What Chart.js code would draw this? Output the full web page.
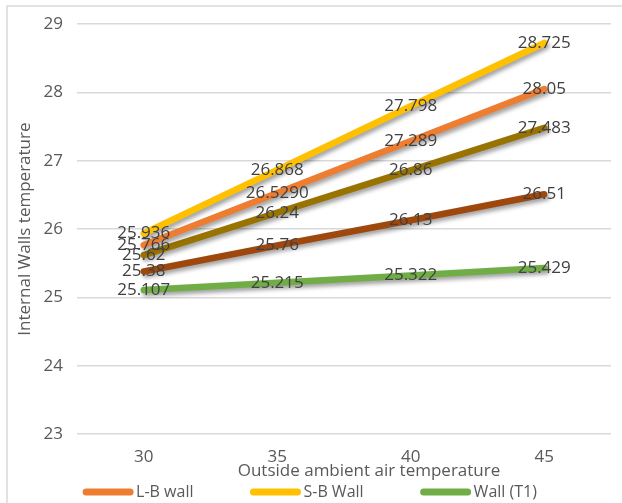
<!DOCTYPE html>
<html>
<head>
<meta charset="utf-8">
<script src="https://cdn.jsdelivr.net/npm/chart.js@4.4.1/dist/chart.umd.min.js"></script>
<style>
  html, body { margin: 0; padding: 0; background: #ffffff; }
  #wrap { width: 622px; height: 503px; position: relative; overflow: hidden; }
  canvas { display: block; }
</style>
</head>
<body>
<div id="wrap"><canvas id="chart" width="622" height="503"></canvas></div>
<script>
// Outside ambient air temperature (categories)
const outsideTemps = ['30', '35', '40', '45'];

// Internal wall temperatures per wall type
const lbWallLabels = ['25.766', '26.5290', '27.289', '28.05'];
const lbWall = lbWallLabels.map(Number);
const sbWall = [25.936, 26.868, 27.798, 28.725];
const wallT1 = [25.107, 25.215, 25.322, 25.429];
const wallT2 = [25.62, 26.24, 26.86, 27.483];
const wallT3 = [25.38, 25.76, 26.13, 26.51];

// Value axis range
const yMin = 23;
const yMax = 29;
const yStep = 1;

const xTitle = 'Outside ambient air temperature';
const yTitle = 'Internal Walls temperature';

const FONT = '"Open Sans", "Noto Sans", sans-serif';
const FONT_SIZE = 17;
const LEGEND_SIZE = 16;
const TEXT_DARK = '#404040';
const TEXT_AXIS = '#595959';

// Soft drop shadow under each line
const lineShadow = {
  id: 'lineShadow',
  beforeDatasetDraw(chart) {
    const ctx = chart.ctx;
    ctx.save();
    ctx.shadowColor = 'rgba(0,0,0,0.38)';
    ctx.shadowBlur = 4;
    ctx.shadowOffsetX = 2;
    ctx.shadowOffsetY = 3;
  },
  afterDatasetDraw(chart) {
    chart.ctx.restore();
  }
};

// Value labels centred on each point
const pointValues = {
  id: 'pointValues',
  afterDatasetsDraw(chart) {
    const ctx = chart.ctx;
    ctx.save();
    ctx.font = FONT_SIZE + 'px ' + FONT;
    ctx.fillStyle = TEXT_DARK;
    ctx.textAlign = 'center';
    ctx.textBaseline = 'middle';
    chart.data.datasets.forEach((ds, di) => {
      const meta = chart.getDatasetMeta(di);
      meta.data.forEach((pt, i) => {
        const txt = ds.valueText ? ds.valueText[i] : String(ds.data[i]);
        ctx.fillText(txt, pt.x, pt.y);
      });
    });
    ctx.restore();
  }
};

// Thin frame around the chart
const frame = {
  id: 'frame',
  beforeDraw(chart) {
    const ctx = chart.ctx;
    ctx.save();
    ctx.strokeStyle = '#d9d9d9';
    ctx.lineWidth = 1.5;
    ctx.strokeRect(7, 6, 800, 800);
    ctx.restore();
  }
};

// Horizontal axis title, sitting just under the tick labels
const categoryTitle = {
  id: 'categoryTitle',
  afterDraw(chart) {
    const ctx = chart.ctx;
    const area = chart.chartArea;
    ctx.save();
    ctx.font = FONT_SIZE + 'px ' + FONT;
    ctx.fillStyle = TEXT_AXIS;
    ctx.textAlign = 'center';
    ctx.textBaseline = 'middle';
    ctx.fillText(xTitle, (area.left + area.right) / 2 + 25, area.bottom + 37);
    ctx.restore();
  }
};

// Legend with long line swatches, wrapped into centred rows
const lineLegend = {
  id: 'lineLegend',
  afterDraw(chart) {
    const ctx = chart.ctx;
    const swatchW = 50, swatchGap = 3, itemGap = 57, rowH = 22;
    ctx.save();
    ctx.font = LEGEND_SIZE + 'px ' + FONT;
    const items = chart.data.datasets.map(ds => ({
      text: ds.label, color: ds.borderColor,
      w: swatchW + swatchGap + ctx.measureText(ds.label).width
    }));
    const maxW = chart.width - 20;
    const rows = [[]];
    let rowW = 0;
    items.forEach(it => {
      const add = (rows[rows.length - 1].length ? itemGap : 0) + it.w;
      if (rowW + add > maxW && rows[rows.length - 1].length) {
        rows.push([it]);
        rowW = it.w;
      } else {
        rows[rows.length - 1].push(it);
        rowW += add;
      }
    });
    let y = 492;
    rows.forEach(row => {
      const total = row.reduce((s, it, k) => s + it.w + (k ? itemGap : 0), 0);
      let x = chart.width / 2 - total / 2 - 1;
      row.forEach(it => {
        ctx.strokeStyle = it.color;
        ctx.lineWidth = 7;
        ctx.lineCap = 'round';
        ctx.beginPath();
        ctx.moveTo(x + 3, y);
        ctx.lineTo(x + swatchW - 3, y);
        ctx.stroke();
        ctx.fillStyle = TEXT_AXIS;
        ctx.textAlign = 'left';
        ctx.textBaseline = 'middle';
        ctx.fillText(it.text, x + swatchW + swatchGap, y);
        x += it.w + itemGap;
      });
      y += rowH;
    });
    ctx.restore();
  }
};

function lineSet(label, data, color, extra) {
  return Object.assign({
    label, data,
    borderColor: color,
    backgroundColor: color,
    borderWidth: 6.5,
    borderCapStyle: 'round',
    borderJoinStyle: 'round',
    pointRadius: 0,
    pointHoverRadius: 0,
    tension: 0,
    fill: false
  }, extra || {});
}

new Chart(document.getElementById('chart'), {
  type: 'line',
  data: {
    labels: outsideTemps,
    datasets: [
      lineSet('L-B wall', lbWall, '#ED7D31', { valueText: lbWallLabels }),
      lineSet('S-B Wall', sbWall, '#FFC000'),
      lineSet('Wall (T1)', wallT1, '#70AD47'),
      lineSet('Wall (T2)', wallT2, '#997300'),
      lineSet('Wall (T3)', wallT3, '#9E480E')
    ]
  },
  options: {
    responsive: false,
    animation: false,
    devicePixelRatio: 1,
    layout: { padding: { top: 21, right: 11, left: 0, bottom: 0 } },
    plugins: {
      legend: { display: false },
      tooltip: { enabled: false },
      title: { display: false }
    },
    scales: {
      x: {
        offset: true,
        grid: { display: false, drawTicks: false },
        border: { display: false },
        ticks: { color: TEXT_AXIS, font: { family: FONT, size: FONT_SIZE }, padding: 13 },
        afterFit(scale) { scale.height = 69; }
      },
      y: {
        min: yMin,
        max: yMax,
        grid: { color: '#d9d9d9', lineWidth: 1.5, drawTicks: false },
        border: { display: false },
        ticks: { stepSize: yStep, color: TEXT_AXIS, font: { family: FONT, size: FONT_SIZE }, padding: 14 },
        title: {
          display: true,
          text: yTitle,
          color: TEXT_AXIS,
          font: { family: FONT, size: FONT_SIZE },
          padding: { top: 15, bottom: 0 }
        },
        afterFit(scale) { scale.width = 77; }
      }
    }
  },
  plugins: [frame, lineShadow, pointValues, categoryTitle, lineLegend]
});
</script>
</body>
</html>
